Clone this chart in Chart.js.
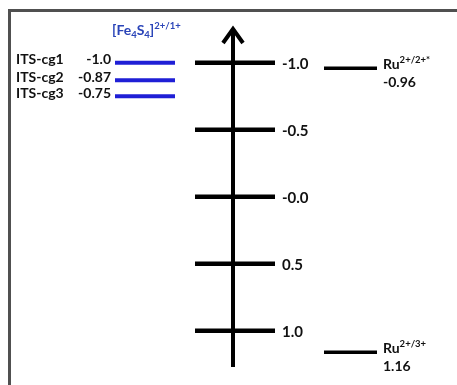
<!DOCTYPE html>
<html>
<head>
<meta charset="utf-8">
<script src="https://cdn.jsdelivr.net/npm/chart.js@4/dist/chart.umd.min.js"></script>
<style>
html,body{margin:0;padding:0;background:#fff;}
canvas{display:block;}
</style>
</head>
<body>
<canvas id="c" width="457" height="385"></canvas>
<script>
// ---- data ----
const feLabels = ['ITS-cg1', 'ITS-cg2', 'ITS-cg3'];
const fePotentials = [-1.0, -0.87, -0.75];
const feValueLabels = ['-1.0', '-0.87', '-0.75'];

const axisTicks = [-1.0, -0.5, 0.0, 0.5, 1.0];
const axisTickLabels = ['-1.0', '-0.5', '-0.0', '0.5', '1.0'];

const ruCouples = ['2+/2+*', '2+/3+'];
const ruPotentials = [-0.96, 1.16];
const ruValueLabels = ['-0.96', '1.16'];

// ---- layout (not data) ----
const FONT = 'Lato, "Open Sans", sans-serif';
const BLUE = '#1f1fd6';
const BLUE_TXT = '#2a44b8';
const X_FE = [115, 175];
const X_TICK = [195, 275];
const X_AXIS = 233;
const X_RU = [324, 377];

const datasets = [];
// vertical axis
datasets.push({data: [{x: X_AXIS, y: 1.27}, {x: X_AXIS, y: -1.245}], borderColor: '#000', borderWidth: 4});
axisTicks.forEach(v => datasets.push({data: [{x: X_TICK[0], y: v}, {x: X_TICK[1], y: v}], borderColor: '#000', borderWidth: 4.5}));
fePotentials.forEach(v => datasets.push({data: [{x: X_FE[0], y: v}, {x: X_FE[1], y: v}], borderColor: BLUE, borderWidth: 4}));
ruPotentials.forEach(v => datasets.push({data: [{x: X_RU[0], y: v}, {x: X_RU[1], y: v}], borderColor: '#000', borderWidth: 3.5}));
datasets.forEach(d => { d.showLine = true; d.pointRadius = 0; d.borderCapStyle = 'butt'; d.clip = false; d.fill = false; });

function rich(ctx, parts, x, y, color) {
  ctx.fillStyle = color;
  ctx.textAlign = 'left';
  ctx.textBaseline = 'alphabetic';
  let cx = x;
  parts.forEach(p => {
    ctx.font = 'bold ' + p.s + 'px ' + FONT;
    ctx.fillText(p.t, cx, y + (p.dy || 0));
    cx += ctx.measureText(p.t).width;
  });
}

const decor = {
  id: 'decor',
  beforeDraw(chart) {
    const ctx = chart.ctx;
    ctx.save();
    ctx.fillStyle = '#fff';
    ctx.fillRect(0, 0, chart.width, chart.height);
    ctx.strokeStyle = '#505050';
    ctx.lineWidth = 3;
    ctx.beginPath();
    ctx.moveTo(9.5, 385);
    ctx.lineTo(9.5, 10.5);
    ctx.lineTo(457, 10.5);
    ctx.stroke();
    ctx.restore();
  },
  afterDatasetsDraw(chart) {
    const ctx = chart.ctx;
    const ys = chart.scales.y;
    const xs = chart.scales.x;
    ctx.save();
    // arrow head
    const tipX = xs.getPixelForValue(X_AXIS);
    const tipY = ys.getPixelForValue(-1.26);
    ctx.strokeStyle = '#000';
    ctx.lineWidth = 4;
    ctx.lineJoin = 'miter';
    ctx.lineCap = 'butt';
    ctx.beginPath();
    ctx.moveTo(tipX - 10, tipY + 15);
    ctx.lineTo(tipX, tipY + 1);
    ctx.lineTo(tipX + 10, tipY + 15);
    ctx.stroke();

    // Fe4S4 group
    rich(ctx, [
      {t: '[Fe', s: 14}, {t: '4', s: 9.5, dy: 3}, {t: 'S', s: 14}, {t: '4', s: 9.5, dy: 3},
      {t: ']', s: 14}, {t: '2+/1+', s: 9.5, dy: -6}
    ], 112, 35, BLUE_TXT);
    ctx.fillStyle = '#111';
    ctx.textBaseline = 'middle';
    feLabels.forEach((lab, i) => {
      const y = ys.getPixelForValue(fePotentials[i]) - 3;
      ctx.font = 'bold 14px ' + FONT;
      ctx.textAlign = 'left';
      ctx.fillText(lab, 16, y);
      ctx.textAlign = 'right';
      ctx.fillText(feValueLabels[i], 111, y);
    });

    // axis tick labels
    ctx.font = 'bold 15px ' + FONT;
    ctx.textAlign = 'left';
    ctx.textBaseline = 'middle';
    axisTicks.forEach((v, i) => {
      ctx.fillText(axisTickLabels[i], 282, ys.getPixelForValue(v) + 1);
    });

    // Ru couples
    ruCouples.forEach((c, i) => {
      const y = ys.getPixelForValue(ruPotentials[i]);
      rich(ctx, [{t: 'Ru', s: 14}, {t: c, s: 9.5, dy: -6}], 383, y + 1, '#111');
      rich(ctx, [{t: ruValueLabels[i], s: 14}], 383, y + 19, '#111');
    });
    ctx.restore();
  }
};

new Chart(document.getElementById('c'), {
  type: 'scatter',
  data: {datasets},
  options: {
    responsive: false,
    animation: false,
    devicePixelRatio: 1,
    layout: {padding: {top: 28, bottom: 18, left: 0, right: 0}},
    plugins: {legend: {display: false}, tooltip: {enabled: false}},
    scales: {
      x: {type: 'linear', min: 0, max: 457, display: false},
      y: {type: 'linear', min: -1.26, max: 1.27, reverse: true, display: false}
    }
  },
  plugins: [decor]
});
</script>
</body>
</html>
